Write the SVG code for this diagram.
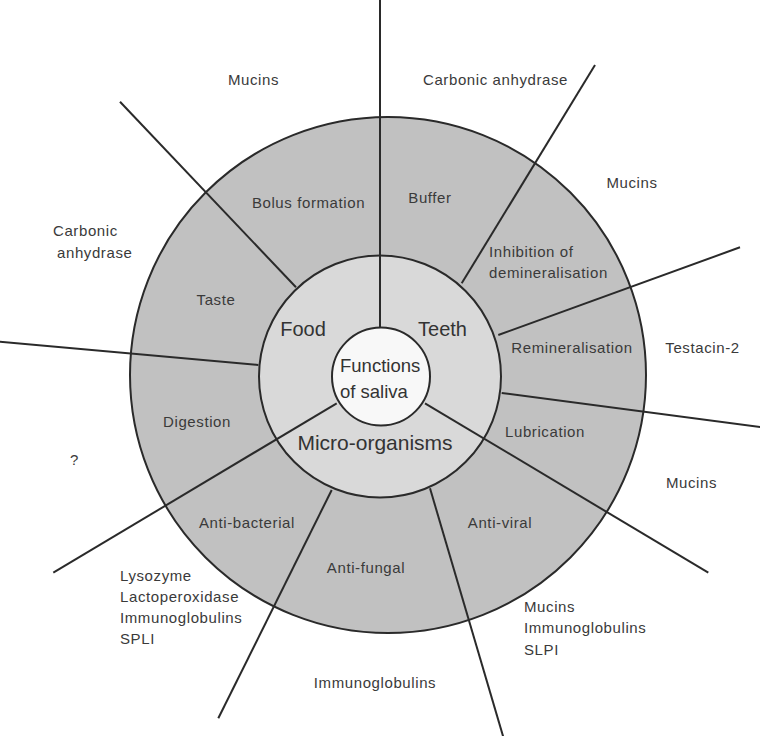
<svg xmlns="http://www.w3.org/2000/svg" width="760" height="736" viewBox="0 0 760 736">
<style>
.ring{stroke:#2a2a2a;stroke-width:2}
.spoke{stroke:#2a2a2a;stroke-width:2;fill:none}
.t{font-family:"Liberation Sans",Arial,sans-serif;font-size:15px;fill:#3a3a3a;letter-spacing:0.6px}
.c{text-anchor:middle}
.big{font-family:"Liberation Sans",Arial,sans-serif;font-size:20px;fill:#333;text-anchor:middle}
</style>
<rect width="760" height="736" fill="#fff"/>
<g id="outer-ring"><circle class="ring" cx="388" cy="375" r="258" fill="#c1c1c1"/></g>
<g id="middle-ring"><circle class="ring" cx="380" cy="376.5" r="121" fill="#d9d9d9"/></g>
<g id="connectors">
<line class="spoke" x1="380" y1="0" x2="380" y2="330"/>
<line class="spoke" x1="461.7" y1="283.3" x2="595" y2="65"/>
<line class="spoke" x1="498.3" y1="335" x2="740" y2="247.3"/>
<line class="spoke" x1="501.7" y1="393" x2="762" y2="427.3"/>
<line class="spoke" x1="425" y1="403.3" x2="708.3" y2="572.7"/>
<line class="spoke" x1="430" y1="488.3" x2="503.3" y2="737"/>
<line class="spoke" x1="331.7" y1="490" x2="218.3" y2="718.3"/>
<line class="spoke" x1="336.7" y1="403.3" x2="53.3" y2="572.7"/>
<line class="spoke" x1="258.3" y1="365" x2="-1" y2="341.6"/>
<line class="spoke" x1="296" y1="287.3" x2="120" y2="101.7"/>
</g>
<g id="center"><circle class="ring" cx="381" cy="376.5" r="49" fill="#f8f8f8"/>
<text style="font-family:'Liberation Sans',Arial,sans-serif;font-size:18.5px;fill:#333" x="340" y="372">Functions</text>
<text style="font-family:'Liberation Sans',Arial,sans-serif;font-size:18.5px;fill:#333" x="340" y="398">of saliva</text></g>
<g id="food"><text class="big" x="303" y="336">Food</text></g>
<g id="teeth"><text class="big" x="442.5" y="336">Teeth</text></g>
<g id="micro-organisms"><text class="big" x="375" y="450" style="font-size:21px">Micro-organisms</text></g>
<g id="bolus-formation"><text class="t c" x="308.5" y="208">Bolus formation</text></g>
<g id="taste"><text class="t c" x="216" y="305">Taste</text></g>
<g id="digestion"><text class="t c" x="197" y="427">Digestion</text></g>
<g id="buffer"><text class="t c" x="430" y="203">Buffer</text></g>
<g id="inhibition"><text class="t" x="489" y="257">Inhibition of</text><text class="t" x="489" y="278">demineralisation</text></g>
<g id="remineralisation"><text class="t c" x="572" y="353">Remineralisation</text></g>
<g id="lubrication"><text class="t c" x="545" y="437">Lubrication</text></g>
<g id="anti-viral"><text class="t c" x="500" y="528">Anti-viral</text></g>
<g id="anti-fungal"><text class="t c" x="366" y="573">Anti-fungal</text></g>
<g id="anti-bacterial"><text class="t c" x="247" y="528">Anti-bacterial</text></g>
<g id="label-mucins-1"><text class="t c" x="253.5" y="85">Mucins</text></g>
<g id="label-carbonic-1"><text class="t c" x="495.5" y="85">Carbonic anhydrase</text></g>
<g id="label-mucins-2"><text class="t c" x="632" y="188">Mucins</text></g>
<g id="label-carbonic-2"><text class="t" x="53" y="236">Carbonic</text><text class="t" x="57" y="258">anhydrase</text></g>
<g id="label-testacin"><text class="t c" x="702.5" y="353">Testacin-2</text></g>
<g id="label-question"><text class="t c" x="74.5" y="465">?</text></g>
<g id="label-mucins-3"><text class="t c" x="691.5" y="488">Mucins</text></g>
<g id="label-antibacterial-agents"><text class="t" x="120" y="581">Lysozyme</text><text class="t" x="120" y="602">Lactoperoxidase</text><text class="t" x="120" y="623">Immunoglobulins</text><text class="t" x="120" y="644">SPLI</text></g>
<g id="label-antiviral-agents"><text class="t" x="524" y="612">Mucins</text><text class="t" x="524" y="633">Immunoglobulins</text><text class="t" x="524" y="655">SLPI</text></g>
<g id="label-immunoglobulins"><text class="t c" x="375" y="688">Immunoglobulins</text></g>
</svg>
